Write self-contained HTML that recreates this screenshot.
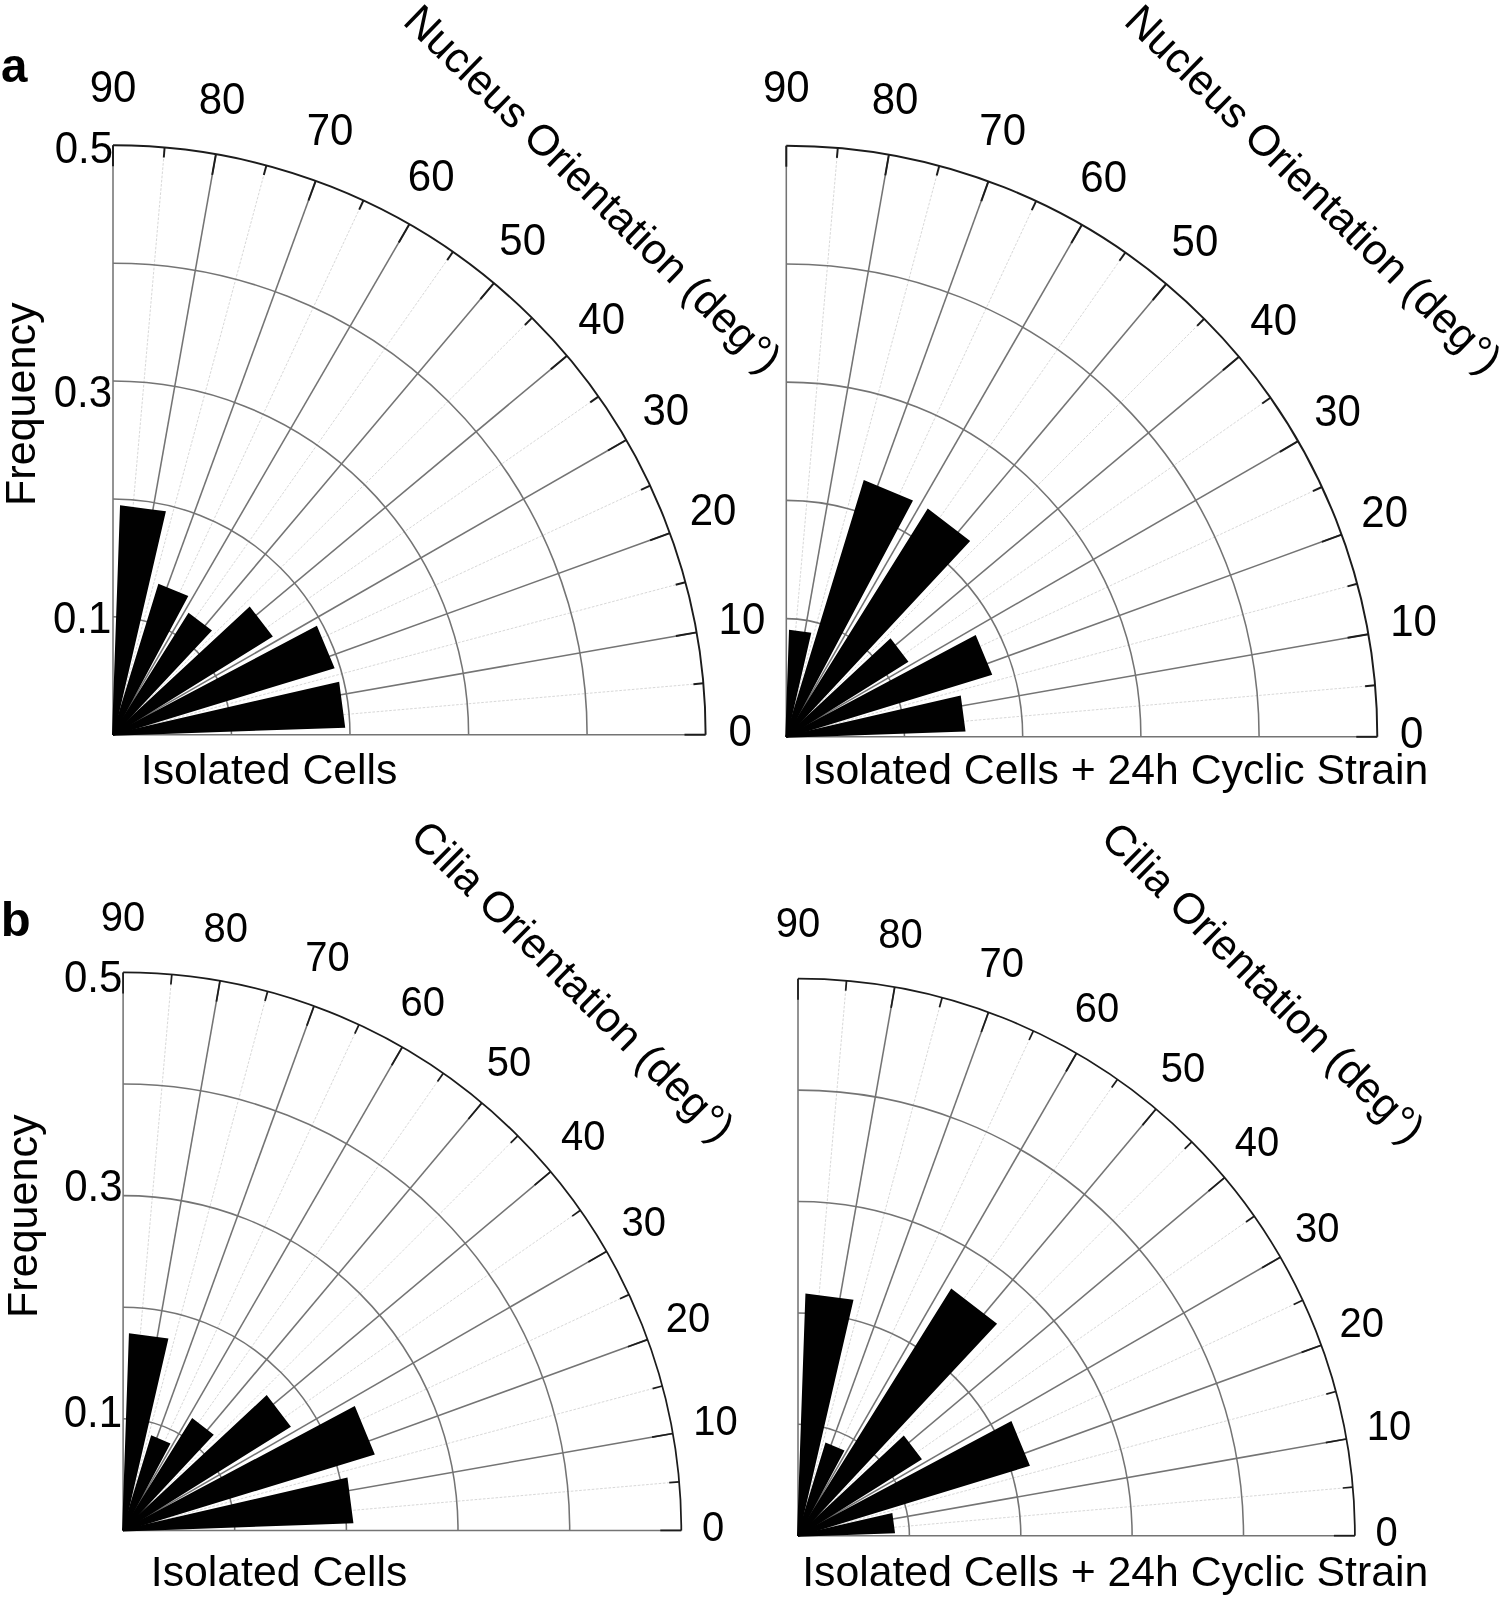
<!DOCTYPE html>
<html><head><meta charset="utf-8"><title>Figure</title>
<style>html,body{margin:0;padding:0;background:#fff}svg{display:block;will-change:transform;opacity:.999}</style></head>
<body>
<svg width="1500" height="1602" viewBox="0 0 1500 1602" font-family='"Liberation Sans", sans-serif' fill="#000">
<rect width="1500" height="1602" fill="#fff"/>
<polygon points="113.0,734.7 344.1,726.7 338.3,683.0" fill="#fff" stroke="#fff" stroke-width="5" stroke-linejoin="miter"/>
<polygon points="113.0,734.7 333.3,667.7 316.4,627.2" fill="#fff" stroke="#fff" stroke-width="5" stroke-linejoin="miter"/>
<polygon points="113.0,734.7 271.4,636.2 249.6,608.0" fill="#fff" stroke="#fff" stroke-width="5" stroke-linejoin="miter"/>
<polygon points="113.0,734.7 210.5,630.7 188.8,614.1" fill="#fff" stroke="#fff" stroke-width="5" stroke-linejoin="miter"/>
<polygon points="113.0,734.7 186.9,596.5 159.0,585.0" fill="#fff" stroke="#fff" stroke-width="5" stroke-linejoin="miter"/>
<polygon points="113.0,734.7 164.7,512.2 121.0,506.5" fill="#fff" stroke="#fff" stroke-width="5" stroke-linejoin="miter"/>
<line x1="113.0" y1="734.7" x2="703.3" y2="683.3" stroke="#d8d8d8" stroke-width="1" stroke-dasharray="2.6 1.6"/>
<line x1="113.0" y1="734.7" x2="685.4" y2="582.2" stroke="#d8d8d8" stroke-width="1" stroke-dasharray="2.6 1.6"/>
<line x1="113.0" y1="734.7" x2="650.1" y2="485.6" stroke="#d8d8d8" stroke-width="1" stroke-dasharray="2.6 1.6"/>
<line x1="113.0" y1="734.7" x2="598.4" y2="396.6" stroke="#d8d8d8" stroke-width="1" stroke-dasharray="2.6 1.6"/>
<line x1="113.0" y1="734.7" x2="532.0" y2="317.9" stroke="#d8d8d8" stroke-width="1" stroke-dasharray="2.6 1.6"/>
<line x1="113.0" y1="734.7" x2="452.9" y2="251.9" stroke="#d8d8d8" stroke-width="1" stroke-dasharray="2.6 1.6"/>
<line x1="113.0" y1="734.7" x2="363.4" y2="200.5" stroke="#d8d8d8" stroke-width="1" stroke-dasharray="2.6 1.6"/>
<line x1="113.0" y1="734.7" x2="266.4" y2="165.4" stroke="#d8d8d8" stroke-width="1" stroke-dasharray="2.6 1.6"/>
<line x1="113.0" y1="734.7" x2="164.6" y2="147.5" stroke="#d8d8d8" stroke-width="1" stroke-dasharray="2.6 1.6"/>
<line x1="113.0" y1="734.7" x2="705.6" y2="734.7" stroke="#747474" stroke-width="1.55"/>
<line x1="113.0" y1="734.7" x2="696.6" y2="632.4" stroke="#747474" stroke-width="1.55"/>
<line x1="113.0" y1="734.7" x2="669.9" y2="533.1" stroke="#747474" stroke-width="1.55"/>
<line x1="113.0" y1="734.7" x2="626.2" y2="440.0" stroke="#747474" stroke-width="1.55"/>
<line x1="113.0" y1="734.7" x2="567.0" y2="355.8" stroke="#747474" stroke-width="1.55"/>
<line x1="113.0" y1="734.7" x2="493.9" y2="283.2" stroke="#747474" stroke-width="1.55"/>
<line x1="113.0" y1="734.7" x2="409.3" y2="224.3" stroke="#747474" stroke-width="1.55"/>
<line x1="113.0" y1="734.7" x2="315.7" y2="180.8" stroke="#747474" stroke-width="1.55"/>
<line x1="113.0" y1="734.7" x2="215.9" y2="154.3" stroke="#747474" stroke-width="1.55"/>
<line x1="113.0" y1="734.7" x2="113.0" y2="145.3" stroke="#747474" stroke-width="1.55"/>
<path d="M231.5,734.7 A118.5,117.9 0 0 0 113.0,616.8" fill="none" stroke="#747474" stroke-width="1.55"/>
<path d="M350.0,734.7 A237.0,235.8 0 0 0 113.0,498.9" fill="none" stroke="#747474" stroke-width="1.55"/>
<path d="M468.6,734.7 A355.6,353.6 0 0 0 113.0,381.1" fill="none" stroke="#747474" stroke-width="1.55"/>
<path d="M587.1,734.7 A474.1,471.5 0 0 0 113.0,263.2" fill="none" stroke="#747474" stroke-width="1.55"/>
<path d="M705.6,734.7 A592.6,589.4 0 0 0 113.0,145.3" fill="none" stroke="#1c1c1c" stroke-width="1.95"/>
<line x1="705.6" y1="734.7" x2="684.5" y2="734.7" stroke="#1c1c1c" stroke-width="1.95"/>
<line x1="703.3" y1="683.3" x2="693.4" y2="684.2" stroke="#1c1c1c" stroke-width="1.95"/>
<line x1="696.6" y1="632.4" x2="675.9" y2="636.0" stroke="#1c1c1c" stroke-width="1.95"/>
<line x1="685.4" y1="582.2" x2="675.7" y2="584.7" stroke="#1c1c1c" stroke-width="1.95"/>
<line x1="669.9" y1="533.1" x2="650.1" y2="540.3" stroke="#1c1c1c" stroke-width="1.95"/>
<line x1="650.1" y1="485.6" x2="641.0" y2="489.8" stroke="#1c1c1c" stroke-width="1.95"/>
<line x1="626.2" y1="440.0" x2="608.0" y2="450.5" stroke="#1c1c1c" stroke-width="1.95"/>
<line x1="598.4" y1="396.6" x2="590.2" y2="402.4" stroke="#1c1c1c" stroke-width="1.95"/>
<line x1="567.0" y1="355.8" x2="550.8" y2="369.3" stroke="#1c1c1c" stroke-width="1.95"/>
<line x1="532.0" y1="317.9" x2="524.9" y2="325.0" stroke="#1c1c1c" stroke-width="1.95"/>
<line x1="493.9" y1="283.2" x2="480.4" y2="299.2" stroke="#1c1c1c" stroke-width="1.95"/>
<line x1="452.9" y1="251.9" x2="447.2" y2="260.1" stroke="#1c1c1c" stroke-width="1.95"/>
<line x1="409.3" y1="224.3" x2="398.8" y2="242.4" stroke="#1c1c1c" stroke-width="1.95"/>
<line x1="363.4" y1="200.5" x2="359.2" y2="209.6" stroke="#1c1c1c" stroke-width="1.95"/>
<line x1="315.7" y1="180.8" x2="308.5" y2="200.5" stroke="#1c1c1c" stroke-width="1.95"/>
<line x1="266.4" y1="165.4" x2="263.8" y2="175.0" stroke="#1c1c1c" stroke-width="1.95"/>
<line x1="215.9" y1="154.3" x2="212.2" y2="174.9" stroke="#1c1c1c" stroke-width="1.95"/>
<line x1="164.6" y1="147.5" x2="163.8" y2="157.5" stroke="#1c1c1c" stroke-width="1.95"/>
<line x1="113.0" y1="145.3" x2="113.0" y2="166.2" stroke="#1c1c1c" stroke-width="1.95"/>
<polygon points="113.0,734.7 344.1,726.7 338.3,683.0" fill="#000" stroke="#000" stroke-width="2" stroke-linejoin="miter"/>
<polygon points="113.0,734.7 333.3,667.7 316.4,627.2" fill="#000" stroke="#000" stroke-width="2" stroke-linejoin="miter"/>
<polygon points="113.0,734.7 271.4,636.2 249.6,608.0" fill="#000" stroke="#000" stroke-width="2" stroke-linejoin="miter"/>
<polygon points="113.0,734.7 210.5,630.7 188.8,614.1" fill="#000" stroke="#000" stroke-width="2" stroke-linejoin="miter"/>
<polygon points="113.0,734.7 186.9,596.5 159.0,585.0" fill="#000" stroke="#000" stroke-width="2" stroke-linejoin="miter"/>
<polygon points="113.0,734.7 164.7,512.2 121.0,506.5" fill="#000" stroke="#000" stroke-width="2" stroke-linejoin="miter"/>
<text transform="translate(740.1,730.7) scale(1,1.04)" font-size="42" text-anchor="middle" dominant-baseline="central">0</text>
<text transform="translate(741.9,619.0) scale(1,1.04)" font-size="42" text-anchor="middle" dominant-baseline="central">10</text>
<text transform="translate(713.0,510.2) scale(1,1.04)" font-size="42" text-anchor="middle" dominant-baseline="central">20</text>
<text transform="translate(665.8,409.5) scale(1,1.04)" font-size="42" text-anchor="middle" dominant-baseline="central">30</text>
<text transform="translate(601.7,318.5) scale(1,1.04)" font-size="42" text-anchor="middle" dominant-baseline="central">40</text>
<text transform="translate(522.7,239.9) scale(1,1.04)" font-size="42" text-anchor="middle" dominant-baseline="central">50</text>
<text transform="translate(431.2,176.2) scale(1,1.04)" font-size="42" text-anchor="middle" dominant-baseline="central">60</text>
<text transform="translate(330.0,129.3) scale(1,1.04)" font-size="42" text-anchor="middle" dominant-baseline="central">70</text>
<text transform="translate(222.1,98.5) scale(1,1.04)" font-size="42" text-anchor="middle" dominant-baseline="central">80</text>
<text transform="translate(113.0,86.8) scale(1,1.04)" font-size="42" text-anchor="middle" dominant-baseline="central">90</text>
<text transform="translate(113.0,147.5) scale(1,1.04)" font-size="42" text-anchor="end" dominant-baseline="central">0.5</text>
<text transform="translate(112.0,392.0) scale(1,1.04)" font-size="42" text-anchor="end" dominant-baseline="central">0.3</text>
<text transform="translate(111.3,618.0) scale(1,1.04)" font-size="42" text-anchor="end" dominant-baseline="central">0.1</text>
<text transform="translate(34.7,506.0) rotate(-90)" font-size="43.1">Frequency</text>
<text x="140.8" y="784.0" font-size="42.75">Isolated Cells</text>
<text transform="translate(401.5,22.9) rotate(44.2)" font-size="42.9">Nucleus Orientation (deg°)</text>
<polygon points="786.3,736.8 964.4,730.6 959.9,696.7" fill="#fff" stroke="#fff" stroke-width="5" stroke-linejoin="miter"/>
<polygon points="786.3,736.8 990.9,674.2 975.2,636.3" fill="#fff" stroke="#fff" stroke-width="5" stroke-linejoin="miter"/>
<polygon points="786.3,736.8 907.0,661.4 890.4,639.7" fill="#fff" stroke="#fff" stroke-width="5" stroke-linejoin="miter"/>
<polygon points="786.3,736.8 968.7,541.1 928.0,509.9" fill="#fff" stroke="#fff" stroke-width="5" stroke-linejoin="miter"/>
<polygon points="786.3,736.8 911.6,501.0 864.4,481.4" fill="#fff" stroke="#fff" stroke-width="5" stroke-linejoin="miter"/>
<polygon points="786.3,736.8 810.1,633.5 790.0,630.9" fill="#fff" stroke="#fff" stroke-width="5" stroke-linejoin="miter"/>
<line x1="786.3" y1="736.8" x2="1375.1" y2="685.3" stroke="#d8d8d8" stroke-width="1" stroke-dasharray="2.6 1.6"/>
<line x1="786.3" y1="736.8" x2="1357.2" y2="583.8" stroke="#d8d8d8" stroke-width="1" stroke-dasharray="2.6 1.6"/>
<line x1="786.3" y1="736.8" x2="1321.9" y2="487.0" stroke="#d8d8d8" stroke-width="1" stroke-dasharray="2.6 1.6"/>
<line x1="786.3" y1="736.8" x2="1270.4" y2="397.8" stroke="#d8d8d8" stroke-width="1" stroke-dasharray="2.6 1.6"/>
<line x1="786.3" y1="736.8" x2="1204.2" y2="318.8" stroke="#d8d8d8" stroke-width="1" stroke-dasharray="2.6 1.6"/>
<line x1="786.3" y1="736.8" x2="1125.3" y2="252.6" stroke="#d8d8d8" stroke-width="1" stroke-dasharray="2.6 1.6"/>
<line x1="786.3" y1="736.8" x2="1036.1" y2="201.1" stroke="#d8d8d8" stroke-width="1" stroke-dasharray="2.6 1.6"/>
<line x1="786.3" y1="736.8" x2="939.3" y2="165.8" stroke="#d8d8d8" stroke-width="1" stroke-dasharray="2.6 1.6"/>
<line x1="786.3" y1="736.8" x2="837.8" y2="147.9" stroke="#d8d8d8" stroke-width="1" stroke-dasharray="2.6 1.6"/>
<line x1="786.3" y1="736.8" x2="1377.3" y2="736.8" stroke="#747474" stroke-width="1.55"/>
<line x1="786.3" y1="736.8" x2="1368.3" y2="634.2" stroke="#747474" stroke-width="1.55"/>
<line x1="786.3" y1="736.8" x2="1341.7" y2="534.6" stroke="#747474" stroke-width="1.55"/>
<line x1="786.3" y1="736.8" x2="1298.1" y2="441.2" stroke="#747474" stroke-width="1.55"/>
<line x1="786.3" y1="736.8" x2="1239.0" y2="356.8" stroke="#747474" stroke-width="1.55"/>
<line x1="786.3" y1="736.8" x2="1166.2" y2="284.0" stroke="#747474" stroke-width="1.55"/>
<line x1="786.3" y1="736.8" x2="1081.8" y2="224.9" stroke="#747474" stroke-width="1.55"/>
<line x1="786.3" y1="736.8" x2="988.4" y2="181.3" stroke="#747474" stroke-width="1.55"/>
<line x1="786.3" y1="736.8" x2="888.9" y2="154.7" stroke="#747474" stroke-width="1.55"/>
<line x1="786.3" y1="736.8" x2="786.3" y2="145.7" stroke="#747474" stroke-width="1.55"/>
<path d="M904.5,736.8 A118.2,118.2 0 0 0 786.3,618.6" fill="none" stroke="#747474" stroke-width="1.55"/>
<path d="M1022.7,736.8 A236.4,236.4 0 0 0 786.3,500.4" fill="none" stroke="#747474" stroke-width="1.55"/>
<path d="M1140.9,736.8 A354.6,354.7 0 0 0 786.3,382.1" fill="none" stroke="#747474" stroke-width="1.55"/>
<path d="M1259.1,736.8 A472.8,472.9 0 0 0 786.3,263.9" fill="none" stroke="#747474" stroke-width="1.55"/>
<path d="M1377.3,736.8 A591.0,591.1 0 0 0 786.3,145.7" fill="none" stroke="#1c1c1c" stroke-width="1.95"/>
<line x1="1377.3" y1="736.8" x2="1356.3" y2="736.8" stroke="#1c1c1c" stroke-width="1.95"/>
<line x1="1375.1" y1="685.3" x2="1365.1" y2="686.2" stroke="#1c1c1c" stroke-width="1.95"/>
<line x1="1368.3" y1="634.2" x2="1347.6" y2="637.8" stroke="#1c1c1c" stroke-width="1.95"/>
<line x1="1357.2" y1="583.8" x2="1347.5" y2="586.4" stroke="#1c1c1c" stroke-width="1.95"/>
<line x1="1341.7" y1="534.6" x2="1321.9" y2="541.8" stroke="#1c1c1c" stroke-width="1.95"/>
<line x1="1321.9" y1="487.0" x2="1312.9" y2="491.2" stroke="#1c1c1c" stroke-width="1.95"/>
<line x1="1298.1" y1="441.2" x2="1279.9" y2="451.8" stroke="#1c1c1c" stroke-width="1.95"/>
<line x1="1270.4" y1="397.8" x2="1262.2" y2="403.5" stroke="#1c1c1c" stroke-width="1.95"/>
<line x1="1239.0" y1="356.8" x2="1222.9" y2="370.3" stroke="#1c1c1c" stroke-width="1.95"/>
<line x1="1204.2" y1="318.8" x2="1197.1" y2="325.9" stroke="#1c1c1c" stroke-width="1.95"/>
<line x1="1166.2" y1="284.0" x2="1152.7" y2="300.1" stroke="#1c1c1c" stroke-width="1.95"/>
<line x1="1125.3" y1="252.6" x2="1119.5" y2="260.8" stroke="#1c1c1c" stroke-width="1.95"/>
<line x1="1081.8" y1="224.9" x2="1071.3" y2="243.1" stroke="#1c1c1c" stroke-width="1.95"/>
<line x1="1036.1" y1="201.1" x2="1031.8" y2="210.1" stroke="#1c1c1c" stroke-width="1.95"/>
<line x1="988.4" y1="181.3" x2="981.3" y2="201.1" stroke="#1c1c1c" stroke-width="1.95"/>
<line x1="939.3" y1="165.8" x2="936.7" y2="175.5" stroke="#1c1c1c" stroke-width="1.95"/>
<line x1="888.9" y1="154.7" x2="885.3" y2="175.4" stroke="#1c1c1c" stroke-width="1.95"/>
<line x1="837.8" y1="147.9" x2="836.9" y2="157.9" stroke="#1c1c1c" stroke-width="1.95"/>
<line x1="786.3" y1="145.7" x2="786.3" y2="166.7" stroke="#1c1c1c" stroke-width="1.95"/>
<polygon points="786.3,736.8 964.4,730.6 959.9,696.7" fill="#000" stroke="#000" stroke-width="2" stroke-linejoin="miter"/>
<polygon points="786.3,736.8 990.9,674.2 975.2,636.3" fill="#000" stroke="#000" stroke-width="2" stroke-linejoin="miter"/>
<polygon points="786.3,736.8 907.0,661.4 890.4,639.7" fill="#000" stroke="#000" stroke-width="2" stroke-linejoin="miter"/>
<polygon points="786.3,736.8 968.7,541.1 928.0,509.9" fill="#000" stroke="#000" stroke-width="2" stroke-linejoin="miter"/>
<polygon points="786.3,736.8 911.6,501.0 864.4,481.4" fill="#000" stroke="#000" stroke-width="2" stroke-linejoin="miter"/>
<polygon points="786.3,736.8 810.1,633.5 790.0,630.9" fill="#000" stroke="#000" stroke-width="2" stroke-linejoin="miter"/>
<text transform="translate(1411.7,732.8) scale(1,1.04)" font-size="42" text-anchor="middle" dominant-baseline="central">0</text>
<text transform="translate(1413.5,620.8) scale(1,1.04)" font-size="42" text-anchor="middle" dominant-baseline="central">10</text>
<text transform="translate(1384.7,511.7) scale(1,1.04)" font-size="42" text-anchor="middle" dominant-baseline="central">20</text>
<text transform="translate(1337.6,410.7) scale(1,1.04)" font-size="42" text-anchor="middle" dominant-baseline="central">30</text>
<text transform="translate(1273.7,319.4) scale(1,1.04)" font-size="42" text-anchor="middle" dominant-baseline="central">40</text>
<text transform="translate(1194.9,240.6) scale(1,1.04)" font-size="42" text-anchor="middle" dominant-baseline="central">50</text>
<text transform="translate(1103.7,176.7) scale(1,1.04)" font-size="42" text-anchor="middle" dominant-baseline="central">60</text>
<text transform="translate(1002.7,129.6) scale(1,1.04)" font-size="42" text-anchor="middle" dominant-baseline="central">70</text>
<text transform="translate(895.1,98.8) scale(1,1.04)" font-size="42" text-anchor="middle" dominant-baseline="central">80</text>
<text transform="translate(786.3,87.1) scale(1,1.04)" font-size="42" text-anchor="middle" dominant-baseline="central">90</text>
<text x="802.2" y="784.3" font-size="42.75">Isolated Cells + 24h Cyclic Strain</text>
<text transform="translate(1122.5,22.9) rotate(44.3)" font-size="42.9">Nucleus Orientation (deg°)</text>
<polygon points="123.1,1530.4 352.3,1522.4 346.6,1478.8" fill="#fff" stroke="#fff" stroke-width="5" stroke-linejoin="miter"/>
<polygon points="123.1,1530.4 373.5,1453.9 354.3,1407.5" fill="#fff" stroke="#fff" stroke-width="5" stroke-linejoin="miter"/>
<polygon points="123.1,1530.4 289.5,1426.4 266.6,1396.6" fill="#fff" stroke="#fff" stroke-width="5" stroke-linejoin="miter"/>
<polygon points="123.1,1530.4 212.3,1434.8 192.4,1419.5" fill="#fff" stroke="#fff" stroke-width="5" stroke-linejoin="miter"/>
<polygon points="123.1,1530.4 169.1,1443.9 151.8,1436.7" fill="#fff" stroke="#fff" stroke-width="5" stroke-linejoin="miter"/>
<polygon points="123.1,1530.4 167.2,1339.4 129.9,1334.5" fill="#fff" stroke="#fff" stroke-width="5" stroke-linejoin="miter"/>
<line x1="123.1" y1="1530.4" x2="679.2" y2="1481.8" stroke="#d8d8d8" stroke-width="1" stroke-dasharray="2.6 1.6"/>
<line x1="123.1" y1="1530.4" x2="662.3" y2="1386.0" stroke="#d8d8d8" stroke-width="1" stroke-dasharray="2.6 1.6"/>
<line x1="123.1" y1="1530.4" x2="629.0" y2="1294.6" stroke="#d8d8d8" stroke-width="1" stroke-dasharray="2.6 1.6"/>
<line x1="123.1" y1="1530.4" x2="580.4" y2="1210.3" stroke="#d8d8d8" stroke-width="1" stroke-dasharray="2.6 1.6"/>
<line x1="123.1" y1="1530.4" x2="517.8" y2="1135.8" stroke="#d8d8d8" stroke-width="1" stroke-dasharray="2.6 1.6"/>
<line x1="123.1" y1="1530.4" x2="443.3" y2="1073.3" stroke="#d8d8d8" stroke-width="1" stroke-dasharray="2.6 1.6"/>
<line x1="123.1" y1="1530.4" x2="359.0" y2="1024.7" stroke="#d8d8d8" stroke-width="1" stroke-dasharray="2.6 1.6"/>
<line x1="123.1" y1="1530.4" x2="267.6" y2="991.4" stroke="#d8d8d8" stroke-width="1" stroke-dasharray="2.6 1.6"/>
<line x1="123.1" y1="1530.4" x2="171.8" y2="974.5" stroke="#d8d8d8" stroke-width="1" stroke-dasharray="2.6 1.6"/>
<line x1="123.1" y1="1530.4" x2="681.3" y2="1530.4" stroke="#747474" stroke-width="1.55"/>
<line x1="123.1" y1="1530.4" x2="672.8" y2="1433.5" stroke="#747474" stroke-width="1.55"/>
<line x1="123.1" y1="1530.4" x2="647.6" y2="1339.6" stroke="#747474" stroke-width="1.55"/>
<line x1="123.1" y1="1530.4" x2="606.5" y2="1251.4" stroke="#747474" stroke-width="1.55"/>
<line x1="123.1" y1="1530.4" x2="550.7" y2="1171.7" stroke="#747474" stroke-width="1.55"/>
<line x1="123.1" y1="1530.4" x2="481.9" y2="1102.9" stroke="#747474" stroke-width="1.55"/>
<line x1="123.1" y1="1530.4" x2="402.2" y2="1047.2" stroke="#747474" stroke-width="1.55"/>
<line x1="123.1" y1="1530.4" x2="314.0" y2="1006.1" stroke="#747474" stroke-width="1.55"/>
<line x1="123.1" y1="1530.4" x2="220.0" y2="980.9" stroke="#747474" stroke-width="1.55"/>
<line x1="123.1" y1="1530.4" x2="123.1" y2="972.4" stroke="#747474" stroke-width="1.55"/>
<path d="M234.7,1530.4 A111.6,111.6 0 0 0 123.1,1418.8" fill="none" stroke="#747474" stroke-width="1.55"/>
<path d="M346.4,1530.4 A223.3,223.2 0 0 0 123.1,1307.2" fill="none" stroke="#747474" stroke-width="1.55"/>
<path d="M458.0,1530.4 A334.9,334.8 0 0 0 123.1,1195.6" fill="none" stroke="#747474" stroke-width="1.55"/>
<path d="M569.7,1530.4 A446.6,446.4 0 0 0 123.1,1084.0" fill="none" stroke="#747474" stroke-width="1.55"/>
<path d="M681.3,1530.4 A558.2,558.0 0 0 0 123.1,972.4" fill="none" stroke="#1c1c1c" stroke-width="1.75"/>
<line x1="681.3" y1="1530.4" x2="660.3" y2="1530.4" stroke="#1c1c1c" stroke-width="1.75"/>
<line x1="679.2" y1="1481.8" x2="669.2" y2="1482.6" stroke="#1c1c1c" stroke-width="1.75"/>
<line x1="672.8" y1="1433.5" x2="652.1" y2="1437.2" stroke="#1c1c1c" stroke-width="1.75"/>
<line x1="662.3" y1="1386.0" x2="652.6" y2="1388.6" stroke="#1c1c1c" stroke-width="1.75"/>
<line x1="647.6" y1="1339.6" x2="627.9" y2="1346.7" stroke="#1c1c1c" stroke-width="1.75"/>
<line x1="629.0" y1="1294.6" x2="619.9" y2="1298.8" stroke="#1c1c1c" stroke-width="1.75"/>
<line x1="606.5" y1="1251.4" x2="588.3" y2="1261.9" stroke="#1c1c1c" stroke-width="1.75"/>
<line x1="580.4" y1="1210.3" x2="572.2" y2="1216.1" stroke="#1c1c1c" stroke-width="1.75"/>
<line x1="550.7" y1="1171.7" x2="534.6" y2="1185.2" stroke="#1c1c1c" stroke-width="1.75"/>
<line x1="517.8" y1="1135.8" x2="510.7" y2="1142.9" stroke="#1c1c1c" stroke-width="1.75"/>
<line x1="481.9" y1="1102.9" x2="468.4" y2="1119.0" stroke="#1c1c1c" stroke-width="1.75"/>
<line x1="443.3" y1="1073.3" x2="437.5" y2="1081.5" stroke="#1c1c1c" stroke-width="1.75"/>
<line x1="402.2" y1="1047.2" x2="391.7" y2="1065.3" stroke="#1c1c1c" stroke-width="1.75"/>
<line x1="359.0" y1="1024.7" x2="354.8" y2="1033.7" stroke="#1c1c1c" stroke-width="1.75"/>
<line x1="314.0" y1="1006.1" x2="306.8" y2="1025.8" stroke="#1c1c1c" stroke-width="1.75"/>
<line x1="267.6" y1="991.4" x2="265.0" y2="1001.1" stroke="#1c1c1c" stroke-width="1.75"/>
<line x1="220.0" y1="980.9" x2="216.4" y2="1001.6" stroke="#1c1c1c" stroke-width="1.75"/>
<line x1="171.8" y1="974.5" x2="170.9" y2="984.5" stroke="#1c1c1c" stroke-width="1.75"/>
<line x1="123.1" y1="972.4" x2="123.1" y2="993.4" stroke="#1c1c1c" stroke-width="1.75"/>
<polygon points="123.1,1530.4 352.3,1522.4 346.6,1478.8" fill="#000" stroke="#000" stroke-width="2" stroke-linejoin="miter"/>
<polygon points="123.1,1530.4 373.5,1453.9 354.3,1407.5" fill="#000" stroke="#000" stroke-width="2" stroke-linejoin="miter"/>
<polygon points="123.1,1530.4 289.5,1426.4 266.6,1396.6" fill="#000" stroke="#000" stroke-width="2" stroke-linejoin="miter"/>
<polygon points="123.1,1530.4 212.3,1434.8 192.4,1419.5" fill="#000" stroke="#000" stroke-width="2" stroke-linejoin="miter"/>
<polygon points="123.1,1530.4 169.1,1443.9 151.8,1436.7" fill="#000" stroke="#000" stroke-width="2" stroke-linejoin="miter"/>
<polygon points="123.1,1530.4 167.2,1339.4 129.9,1334.5" fill="#000" stroke="#000" stroke-width="2" stroke-linejoin="miter"/>
<text transform="translate(713.0,1526.4) scale(1,1.04)" font-size="40" text-anchor="middle" dominant-baseline="central">0</text>
<text transform="translate(715.4,1420.6) scale(1,1.04)" font-size="40" text-anchor="middle" dominant-baseline="central">10</text>
<text transform="translate(688.1,1317.5) scale(1,1.04)" font-size="40" text-anchor="middle" dominant-baseline="central">20</text>
<text transform="translate(643.7,1222.2) scale(1,1.04)" font-size="40" text-anchor="middle" dominant-baseline="central">30</text>
<text transform="translate(583.3,1136.0) scale(1,1.04)" font-size="40" text-anchor="middle" dominant-baseline="central">40</text>
<text transform="translate(508.9,1061.7) scale(1,1.04)" font-size="40" text-anchor="middle" dominant-baseline="central">50</text>
<text transform="translate(422.7,1001.3) scale(1,1.04)" font-size="40" text-anchor="middle" dominant-baseline="central">60</text>
<text transform="translate(327.4,956.9) scale(1,1.04)" font-size="40" text-anchor="middle" dominant-baseline="central">70</text>
<text transform="translate(225.7,927.6) scale(1,1.04)" font-size="40" text-anchor="middle" dominant-baseline="central">80</text>
<text transform="translate(123.1,916.5) scale(1,1.04)" font-size="40" text-anchor="middle" dominant-baseline="central">90</text>
<text transform="translate(122.3,976.8) scale(1,1.04)" font-size="42" text-anchor="end" dominant-baseline="central">0.5</text>
<text transform="translate(122.5,1186.2) scale(1,1.04)" font-size="42" text-anchor="end" dominant-baseline="central">0.3</text>
<text transform="translate(122.0,1411.7) scale(1,1.04)" font-size="42" text-anchor="end" dominant-baseline="central">0.1</text>
<text transform="translate(37.3,1318.0) rotate(-90)" font-size="43.1">Frequency</text>
<text x="150.8" y="1585.7" font-size="42.75">Isolated Cells</text>
<text transform="translate(408.6,838.6) rotate(44.8)" font-size="42.9">Cilia Orientation (deg°)</text>
<polygon points="798.0,1535.7 893.9,1532.3 891.5,1514.1" fill="#fff" stroke="#fff" stroke-width="5" stroke-linejoin="miter"/>
<polygon points="798.0,1535.7 1028.6,1465.2 1010.9,1422.5" fill="#fff" stroke="#fff" stroke-width="5" stroke-linejoin="miter"/>
<polygon points="798.0,1535.7 920.5,1459.1 903.7,1437.1" fill="#fff" stroke="#fff" stroke-width="5" stroke-linejoin="miter"/>
<polygon points="798.0,1535.7 995.6,1323.8 951.5,1290.0" fill="#fff" stroke="#fff" stroke-width="5" stroke-linejoin="miter"/>
<polygon points="798.0,1535.7 843.1,1450.9 826.1,1443.9" fill="#fff" stroke="#fff" stroke-width="5" stroke-linejoin="miter"/>
<polygon points="798.0,1535.7 852.3,1300.7 806.4,1294.6" fill="#fff" stroke="#fff" stroke-width="5" stroke-linejoin="miter"/>
<line x1="798.0" y1="1535.7" x2="1352.8" y2="1487.2" stroke="#d8d8d8" stroke-width="1" stroke-dasharray="2.6 1.6"/>
<line x1="798.0" y1="1535.7" x2="1335.9" y2="1391.5" stroke="#d8d8d8" stroke-width="1" stroke-dasharray="2.6 1.6"/>
<line x1="798.0" y1="1535.7" x2="1302.7" y2="1300.3" stroke="#d8d8d8" stroke-width="1" stroke-dasharray="2.6 1.6"/>
<line x1="798.0" y1="1535.7" x2="1254.2" y2="1216.2" stroke="#d8d8d8" stroke-width="1" stroke-dasharray="2.6 1.6"/>
<line x1="798.0" y1="1535.7" x2="1191.8" y2="1141.8" stroke="#d8d8d8" stroke-width="1" stroke-dasharray="2.6 1.6"/>
<line x1="798.0" y1="1535.7" x2="1117.4" y2="1079.4" stroke="#d8d8d8" stroke-width="1" stroke-dasharray="2.6 1.6"/>
<line x1="798.0" y1="1535.7" x2="1033.4" y2="1030.9" stroke="#d8d8d8" stroke-width="1" stroke-dasharray="2.6 1.6"/>
<line x1="798.0" y1="1535.7" x2="942.1" y2="997.7" stroke="#d8d8d8" stroke-width="1" stroke-dasharray="2.6 1.6"/>
<line x1="798.0" y1="1535.7" x2="846.5" y2="980.8" stroke="#d8d8d8" stroke-width="1" stroke-dasharray="2.6 1.6"/>
<line x1="798.0" y1="1535.7" x2="1354.9" y2="1535.7" stroke="#747474" stroke-width="1.55"/>
<line x1="798.0" y1="1535.7" x2="1346.4" y2="1439.0" stroke="#747474" stroke-width="1.55"/>
<line x1="798.0" y1="1535.7" x2="1321.3" y2="1345.2" stroke="#747474" stroke-width="1.55"/>
<line x1="798.0" y1="1535.7" x2="1280.3" y2="1257.2" stroke="#747474" stroke-width="1.55"/>
<line x1="798.0" y1="1535.7" x2="1224.6" y2="1177.7" stroke="#747474" stroke-width="1.55"/>
<line x1="798.0" y1="1535.7" x2="1156.0" y2="1109.0" stroke="#747474" stroke-width="1.55"/>
<line x1="798.0" y1="1535.7" x2="1076.5" y2="1053.3" stroke="#747474" stroke-width="1.55"/>
<line x1="798.0" y1="1535.7" x2="988.5" y2="1012.3" stroke="#747474" stroke-width="1.55"/>
<line x1="798.0" y1="1535.7" x2="894.7" y2="987.2" stroke="#747474" stroke-width="1.55"/>
<line x1="798.0" y1="1535.7" x2="798.0" y2="978.7" stroke="#747474" stroke-width="1.55"/>
<path d="M909.4,1535.7 A111.4,111.4 0 0 0 798.0,1424.3" fill="none" stroke="#747474" stroke-width="1.55"/>
<path d="M1020.8,1535.7 A222.8,222.8 0 0 0 798.0,1312.9" fill="none" stroke="#747474" stroke-width="1.55"/>
<path d="M1132.1,1535.7 A334.1,334.2 0 0 0 798.0,1201.5" fill="none" stroke="#747474" stroke-width="1.55"/>
<path d="M1243.5,1535.7 A445.5,445.6 0 0 0 798.0,1090.1" fill="none" stroke="#747474" stroke-width="1.55"/>
<path d="M1354.9,1535.7 A556.9,557.0 0 0 0 798.0,978.7" fill="none" stroke="#1c1c1c" stroke-width="1.75"/>
<line x1="1354.9" y1="1535.7" x2="1333.9" y2="1535.7" stroke="#1c1c1c" stroke-width="1.75"/>
<line x1="1352.8" y1="1487.2" x2="1342.8" y2="1488.0" stroke="#1c1c1c" stroke-width="1.75"/>
<line x1="1346.4" y1="1439.0" x2="1325.8" y2="1442.6" stroke="#1c1c1c" stroke-width="1.75"/>
<line x1="1335.9" y1="1391.5" x2="1326.3" y2="1394.1" stroke="#1c1c1c" stroke-width="1.75"/>
<line x1="1321.3" y1="1345.2" x2="1301.6" y2="1352.4" stroke="#1c1c1c" stroke-width="1.75"/>
<line x1="1302.7" y1="1300.3" x2="1293.7" y2="1304.5" stroke="#1c1c1c" stroke-width="1.75"/>
<line x1="1280.3" y1="1257.2" x2="1262.1" y2="1267.7" stroke="#1c1c1c" stroke-width="1.75"/>
<line x1="1254.2" y1="1216.2" x2="1246.0" y2="1222.0" stroke="#1c1c1c" stroke-width="1.75"/>
<line x1="1224.6" y1="1177.7" x2="1208.5" y2="1191.2" stroke="#1c1c1c" stroke-width="1.75"/>
<line x1="1191.8" y1="1141.8" x2="1184.7" y2="1148.9" stroke="#1c1c1c" stroke-width="1.75"/>
<line x1="1156.0" y1="1109.0" x2="1142.5" y2="1125.1" stroke="#1c1c1c" stroke-width="1.75"/>
<line x1="1117.4" y1="1079.4" x2="1111.7" y2="1087.6" stroke="#1c1c1c" stroke-width="1.75"/>
<line x1="1076.5" y1="1053.3" x2="1066.0" y2="1071.5" stroke="#1c1c1c" stroke-width="1.75"/>
<line x1="1033.4" y1="1030.9" x2="1029.1" y2="1040.0" stroke="#1c1c1c" stroke-width="1.75"/>
<line x1="988.5" y1="1012.3" x2="981.3" y2="1032.0" stroke="#1c1c1c" stroke-width="1.75"/>
<line x1="942.1" y1="997.7" x2="939.5" y2="1007.3" stroke="#1c1c1c" stroke-width="1.75"/>
<line x1="894.7" y1="987.2" x2="891.1" y2="1007.8" stroke="#1c1c1c" stroke-width="1.75"/>
<line x1="846.5" y1="980.8" x2="845.7" y2="990.8" stroke="#1c1c1c" stroke-width="1.75"/>
<line x1="798.0" y1="978.7" x2="798.0" y2="999.7" stroke="#1c1c1c" stroke-width="1.75"/>
<polygon points="798.0,1535.7 893.9,1532.3 891.5,1514.1" fill="#000" stroke="#000" stroke-width="2" stroke-linejoin="miter"/>
<polygon points="798.0,1535.7 1028.6,1465.2 1010.9,1422.5" fill="#000" stroke="#000" stroke-width="2" stroke-linejoin="miter"/>
<polygon points="798.0,1535.7 920.5,1459.1 903.7,1437.1" fill="#000" stroke="#000" stroke-width="2" stroke-linejoin="miter"/>
<polygon points="798.0,1535.7 995.6,1323.8 951.5,1290.0" fill="#000" stroke="#000" stroke-width="2" stroke-linejoin="miter"/>
<polygon points="798.0,1535.7 843.1,1450.9 826.1,1443.9" fill="#000" stroke="#000" stroke-width="2" stroke-linejoin="miter"/>
<polygon points="798.0,1535.7 852.3,1300.7 806.4,1294.6" fill="#000" stroke="#000" stroke-width="2" stroke-linejoin="miter"/>
<text transform="translate(1386.5,1531.7) scale(1,1.04)" font-size="40" text-anchor="middle" dominant-baseline="central">0</text>
<text transform="translate(1388.9,1426.1) scale(1,1.04)" font-size="40" text-anchor="middle" dominant-baseline="central">10</text>
<text transform="translate(1361.7,1323.2) scale(1,1.04)" font-size="40" text-anchor="middle" dominant-baseline="central">20</text>
<text transform="translate(1317.3,1228.0) scale(1,1.04)" font-size="40" text-anchor="middle" dominant-baseline="central">30</text>
<text transform="translate(1257.1,1142.0) scale(1,1.04)" font-size="40" text-anchor="middle" dominant-baseline="central">40</text>
<text transform="translate(1182.9,1067.8) scale(1,1.04)" font-size="40" text-anchor="middle" dominant-baseline="central">50</text>
<text transform="translate(1096.9,1007.6) scale(1,1.04)" font-size="40" text-anchor="middle" dominant-baseline="central">60</text>
<text transform="translate(1001.8,963.2) scale(1,1.04)" font-size="40" text-anchor="middle" dominant-baseline="central">70</text>
<text transform="translate(900.4,934.0) scale(1,1.04)" font-size="40" text-anchor="middle" dominant-baseline="central">80</text>
<text transform="translate(798.0,922.9) scale(1,1.04)" font-size="40" text-anchor="middle" dominant-baseline="central">90</text>
<text x="802.2" y="1585.8" font-size="42.75">Isolated Cells + 24h Cyclic Strain</text>
<text transform="translate(1099.0,840.0) rotate(44.8)" font-size="42.9">Cilia Orientation (deg°)</text>
<text x="1.1" y="81.5" font-size="47.5" font-weight="bold">a</text>
<text x="0.7" y="935.5" font-size="49" font-weight="bold">b</text>
</svg>
</body></html>
